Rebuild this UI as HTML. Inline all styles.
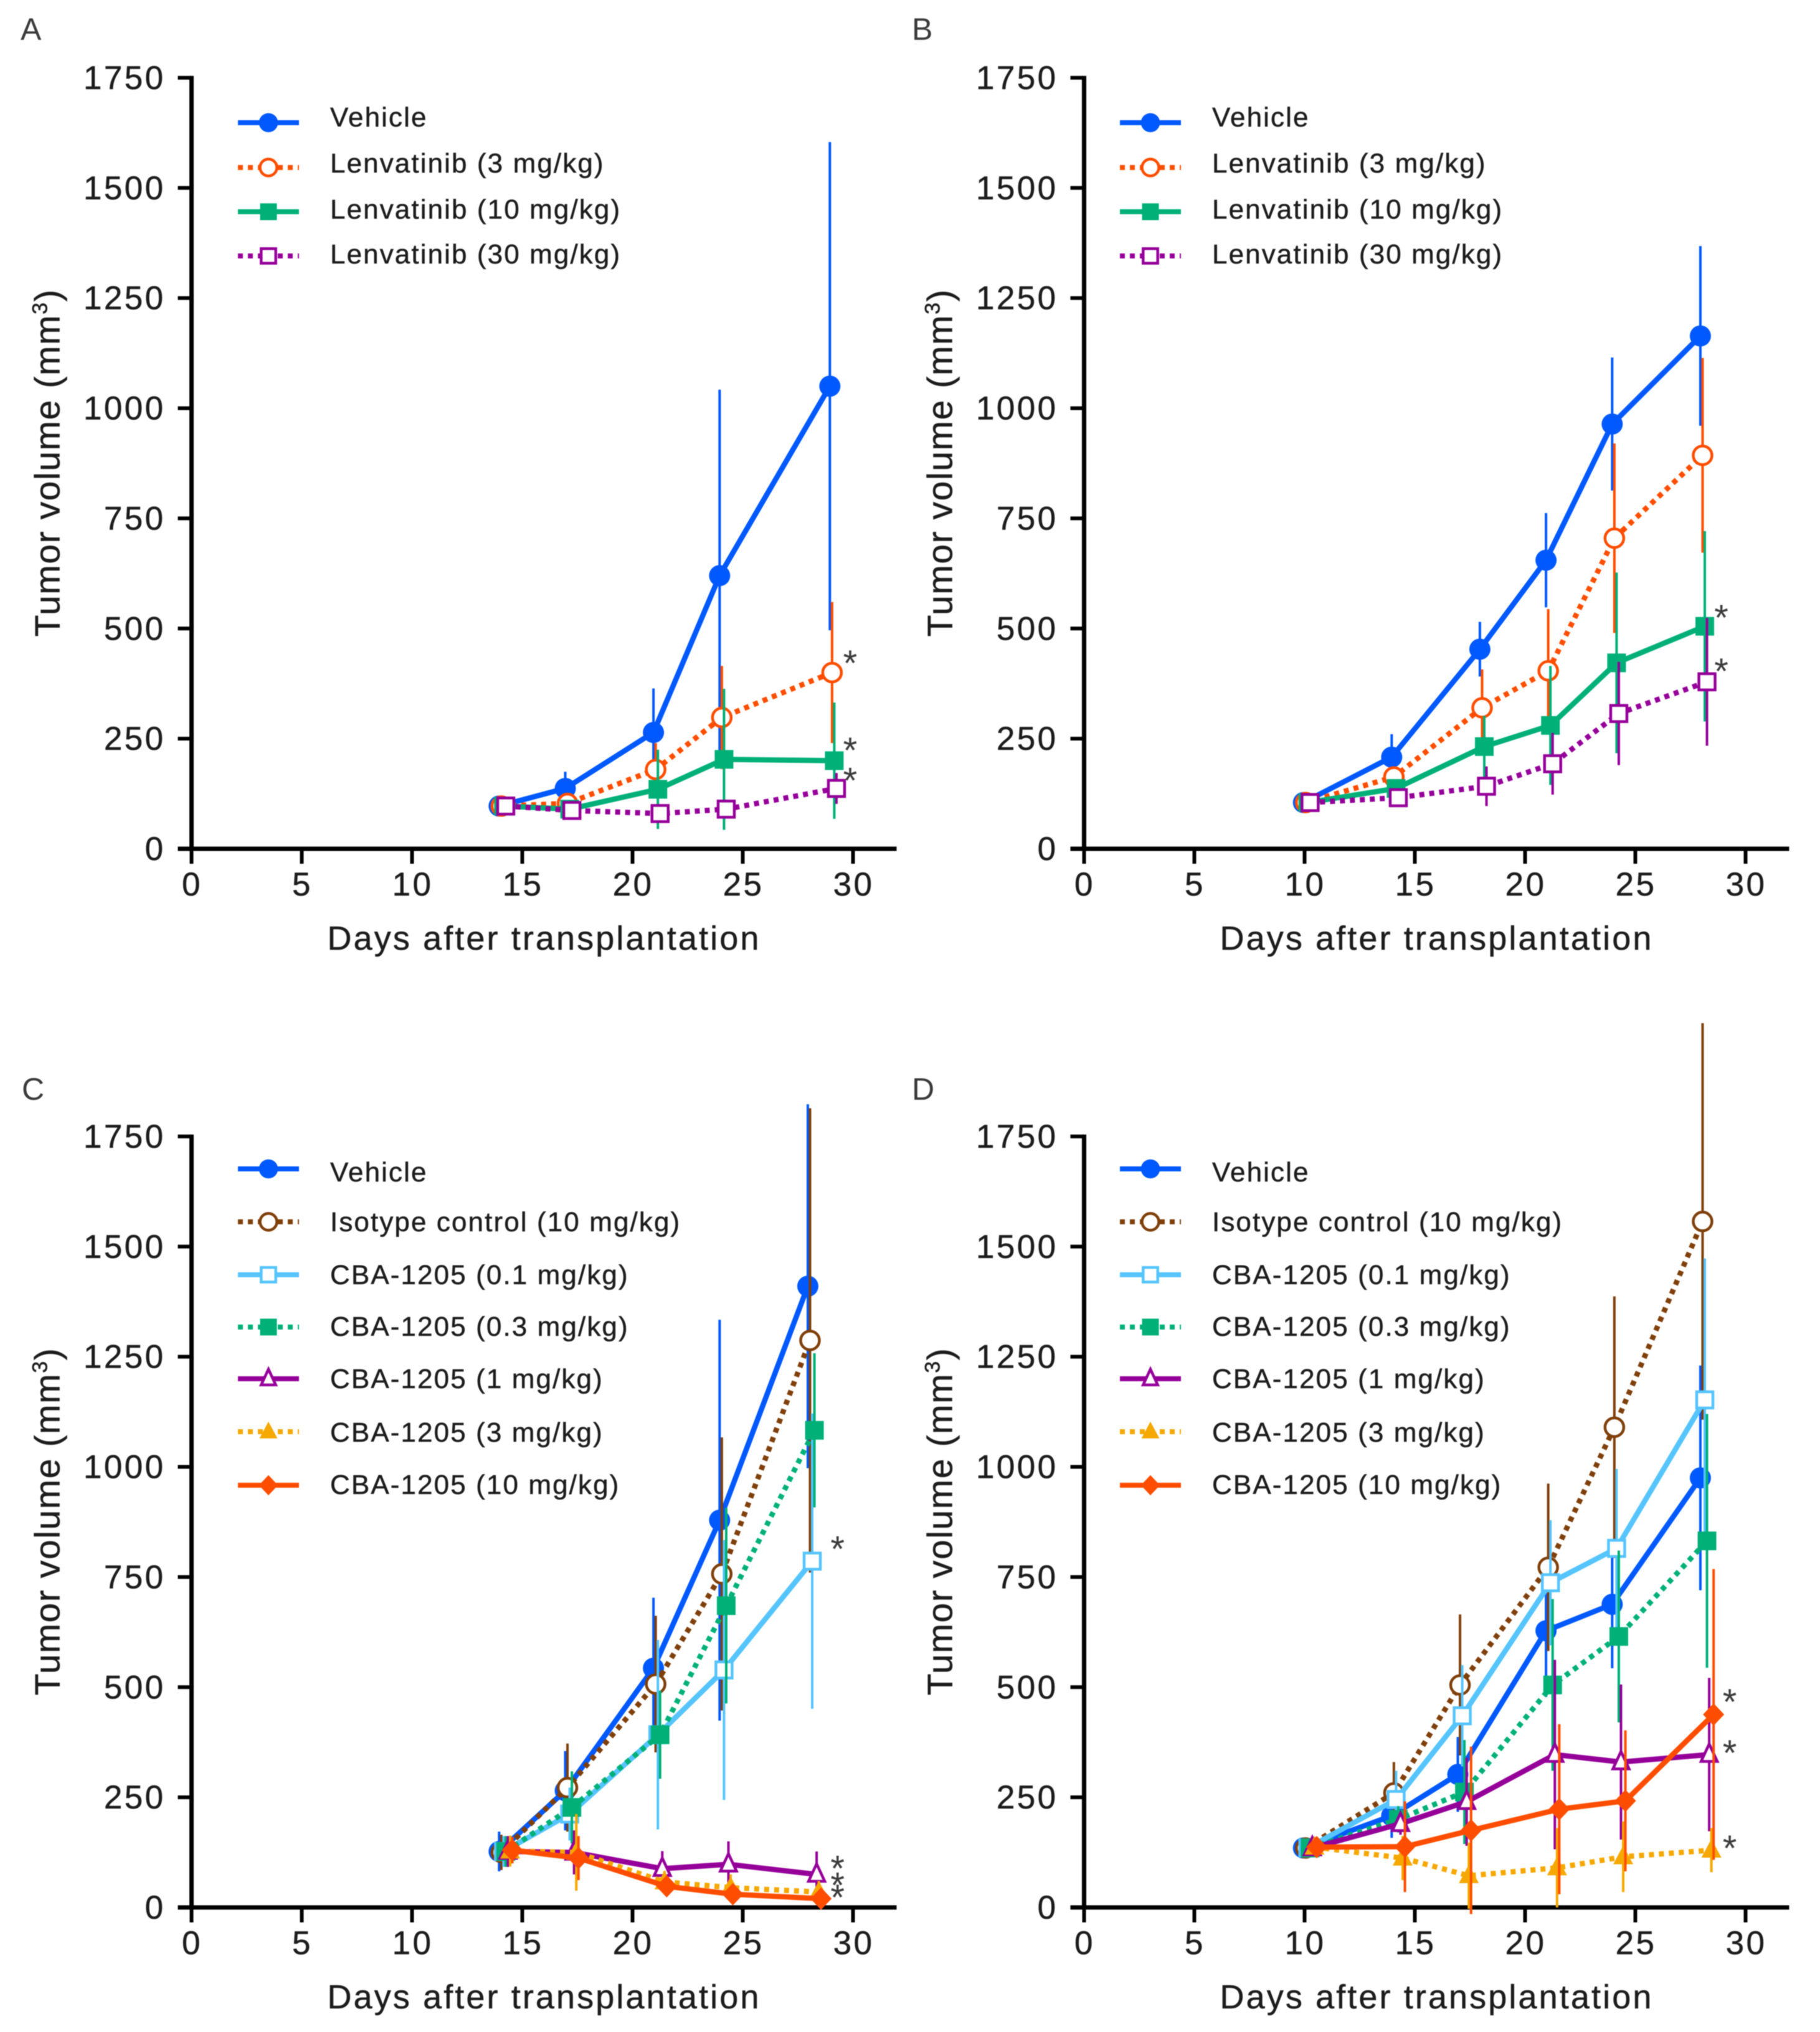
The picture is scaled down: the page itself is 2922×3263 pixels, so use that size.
<!DOCTYPE html>
<html>
<head>
<meta charset="utf-8">
<title>Tumor volume charts</title>
<style>
html,body{margin:0;padding:0;background:#fff;width:2922px;height:3263px;overflow:hidden}
svg{display:block;filter:blur(.7px)}
text{font-family:"Liberation Sans",Arial,sans-serif;fill:#1c1c1c;stroke:#1c1c1c;stroke-width:.5px}
text.soft{fill:#3a3a3a;stroke:none}
</style>
</head>
<body>
<svg id="figure" xmlns="http://www.w3.org/2000/svg" width="2922" height="3263" viewBox="0 0 2922 3263"></svg>
<script>
const xTicks=[0,5,10,15,20,25,30];
const yTicks=[0,250,500,750,1000,1250,1500,1750];
const xTitle="Days after transplantation";

const daysA=[14,17,21,24,29];
const vehicleA=[97,137,264,620,1050];
const vehicleAErr=[6,38,100,422,554];
const len3A=[97,103,180,298,400];
const len3AErr=[8,12,60,117,160];
const len10A=[97,90,135,203,200];
const len10AErr=[8,8,90,160,132];
const len30A=[97,87,80,90,137];
const len30AErr=[6,8,8,8,35];
const starDaysA=[29.87,29.87,29.87];
const starValsA=[430,232,163];

const daysB=[10,14,18,21,24,28];
const vehicleB=[105,208,453,655,964,1164];
const vehicleBErr=[6,52,62,107,151,204];
const len3B=[105,163,320,404,705,893];
const len3BErr=[6,20,87,140,215,221];
const len10B=[105,137,232,280,422,505];
const len10BErr=[6,10,70,135,205,216];
const len30B=[105,116,142,193,307,379];
const len30BErr=[6,20,45,70,117,145];
const starDaysB=[28.9,28.9];
const starValsB=[533,411];

const daysC=[14,17,21,24,28];
const vehicleC=[127,265,543,879,1410];
const vehicleCErr=[45,90,160,455,413];
const isoC=[125,272,507,757,1287];
const isoCErr=[40,100,155,310,527];
const cba01C=[127,212,392,539,786];
const cba01CErr=[35,60,215,295,335];
const cba03C=[127,227,392,685,1083];
const cba03CErr=[35,82,100,222,175];
const cba1C=[127,125,88,98,75];
const cba1CErr=[35,50,40,52,52];
const cba3C=[128,125,58,45,35];
const cba3CErr=[35,87,25,30,25];
const cba10C=[130,112,48,30,20];
const cba10CErr=[30,50,15,10,5];
const starDaysC=[29.3,29.3,29.3,29.3];
const starValsC=[822,97,59,31];

const daysD=[10,14,17,21,24,28];
const vehicleD=[135,208,302,628,688,975];
const vehicleDErr=[6,50,85,150,145,255];
const isoD=[135,260,505,772,1090,1557];
const isoDErr=[6,70,160,190,297,450];
const cba01D=[135,245,435,737,815,1152];
const cba01DErr=[6,65,115,142,180,321];
const cba03D=[135,200,262,505,615,832];
const cba03DErr=[6,30,118,195,195,288];
const cba1D=[135,190,240,347,330,347];
const cba1DErr=[6,25,100,215,176,174];
const cba3D=[137,112,72,90,115,130];
const cba3DErr=[6,50,75,90,80,50];
const cba10D=[137,138,175,223,242,438];
const cba10DErr=[6,103,190,193,160,330];
const starDaysD=[29.28,29.28,29.28];
const starValsD=[475,359,143];

const namesLen=["Vehicle","Lenvatinib (3 mg/kg)","Lenvatinib (10 mg/kg)","Lenvatinib (30 mg/kg)"];
const namesCba=["Vehicle","Isotype control (10 mg/kg)","CBA-1205 (0.1 mg/kg)","CBA-1205 (0.3 mg/kg)","CBA-1205 (1 mg/kg)","CBA-1205 (3 mg/kg)","CBA-1205 (10 mg/kg)"];

const BLUE="#0058ff",ORANGE="#ff4d00",GREEN="#00b077",PURPLE="#950099",BROWN="#7f3f0a",SKY="#55c4ff",AMBER="#f5a800";
const styleLen=[
 {c:BLUE,dash:false,m:"circle",open:false},
 {c:ORANGE,dash:true,m:"circle",open:true},
 {c:GREEN,dash:false,m:"square",open:false},
 {c:PURPLE,dash:true,m:"square",open:true}];
const styleCba=[
 {c:BLUE,dash:false,m:"circle",open:false},
 {c:BROWN,dash:true,m:"circle",open:true},
 {c:SKY,dash:false,m:"square",open:true},
 {c:GREEN,dash:true,m:"square",open:false},
 {c:PURPLE,dash:false,m:"triangle",open:true},
 {c:AMBER,dash:true,m:"triangle",open:false},
 {c:ORANGE,dash:false,m:"diamond",open:false}];

const panels=[
 {id:"a",label:"A",labelX:33,labelY:64,ax:307.5,bottom:1363,end:1439.5,days:daysA,
  vals:[vehicleA,len3A,len10A,len30A],errs:[vehicleAErr,len3AErr,len10AErr,len30AErr],
  names:namesLen,styles:styleLen,legX:382,
  legLine:[197,269,340,411],legText:[203,277,351,423],
  starDays:starDaysA,starVals:starValsA},
 {id:"b",label:"B",labelX:1464,labelY:64,ax:1740.5,bottom:1363,end:2872.5,days:daysB,
  vals:[vehicleB,len3B,len10B,len30B],errs:[vehicleBErr,len3BErr,len10BErr,len30BErr],
  names:namesLen,styles:styleLen,legX:1798,
  legLine:[197,269,340,411],legText:[203,277,351,423],
  starDays:starDaysB,starVals:starValsB},
 {id:"c",label:"C",labelX:35,labelY:1766,ax:307.5,bottom:3063,end:1439.5,days:daysC,
  vals:[vehicleC,isoC,cba01C,cba03C,cba1C,cba3C,cba10C],errs:[vehicleCErr,isoCErr,cba01CErr,cba03CErr,cba1CErr,cba3CErr,cba10CErr],
  names:namesCba,styles:styleCba,legX:382,
  legLine:[1877,1962,2047,2131,2214,2299,2385],legText:[1897,1977,2062,2145,2229,2315,2399],
  starDays:starDaysC,starVals:starValsC},
 {id:"d",label:"D",labelX:1464,labelY:1766,ax:1740.5,bottom:3063,end:2872.5,days:daysD,
  vals:[vehicleD,isoD,cba01D,cba03D,cba1D,cba3D,cba10D],errs:[vehicleDErr,isoDErr,cba01DErr,cba03DErr,cba1DErr,cba3DErr,cba10DErr],
  names:namesCba,styles:styleCba,legX:1798,
  legLine:[1877,1962,2047,2131,2214,2299,2385],legText:[1897,1977,2062,2145,2229,2315,2399],
  starDays:starDaysD,starVals:starValsD}
];

const NS="http://www.w3.org/2000/svg";
const PX_PER_DAY=35.4, PX_PER_UNIT=0.7075;
function xScale(p,d){return p.ax+d*PX_PER_DAY;}
function yScale(p,v){return p.bottom-v*PX_PER_UNIT;}
function make(tag,parent,attrs){
 const e=document.createElementNS(NS,tag);
 for(const k in attrs)e.setAttribute(k,attrs[k]);
 parent.appendChild(e);
 return e;
}
function marker(parent,x,y,s,scale){
 const k=scale||1;
 const fill=s.open?"#fff":s.c;
 const base={fill:fill,stroke:s.c,"stroke-width":s.open?4.5:0};
 let e;
 if(s.m==="circle"){
  e=make("ellipse",parent,Object.assign({cx:x,cy:y,rx:(s.open?15:17)*k,ry:(s.open?15:17)*k},base));
 }else if(s.m==="square"){
  const h=(s.open?13:15)*k;
  e=make("rect",parent,Object.assign({x:x-h,y:y-h,width:2*h,height:2*h},base));
 }else if(s.m==="triangle"){
  const w=(s.open?13:16)*k,t=(s.open?17:18)*k,b=(s.open?11:12)*k;
  e=make("polygon",parent,Object.assign({points:(x-w)+","+(y+b)+" "+(x+w)+","+(y+b)+" "+x+","+(y-t)},base));
 }else{
  const w=17*k,t=18*k;
  e=make("polygon",parent,Object.assign({points:(x-w)+","+y+" "+x+","+(y-t)+" "+(x+w)+","+y+" "+x+","+(y+t)},base));
 }
 return e;
}
const svg=document.getElementById("figure");

panels.forEach(function(p){
 const g=make("g",svg,{});
 
 

 const lab=make("text",g,{x:p.labelX,y:p.labelY,"font-size":50,"class":"soft"});
 
 
 lab.textContent=p.label;

 const yTop=yScale(p,1750);
 const yAxis=make("line",g,{x1:p.ax,x2:p.ax,y1:yTop-3,y2:p.bottom+3,stroke:"#000","stroke-width":7});
 
 
 const xAxis=make("line",g,{x1:p.ax-22,x2:p.end,y1:p.bottom,y2:p.bottom,stroke:"#000","stroke-width":7});
 
 

 yTicks.forEach(function(v){
  const y=yScale(p,v);
  const t=make("line",g,{x1:p.ax-22,x2:p.ax,y1:y,y2:y,stroke:"#000","stroke-width":6});
  
  
  const l=make("text",g,{x:p.ax-42,y:y+18,"font-size":53,"letter-spacing":3.4,"text-anchor":"end"});
  
  
  l.textContent=v;
 });
 xTicks.forEach(function(d){
  const x=xScale(p,d);
  const t=make("line",g,{x1:x,x2:x,y1:p.bottom,y2:p.bottom+24,stroke:"#000","stroke-width":6});
  
  
  const l=make("text",g,{x:x+1,y:p.bottom+75,"font-size":53,"letter-spacing":3.4,"text-anchor":"middle"});
  
  
  l.textContent=d;
 });

 const xt=make("text",g,{x:p.ax+566,y:p.bottom+162,"font-size":54,"letter-spacing":3.1,"text-anchor":"middle"});
 
 
 xt.textContent=xTitle;

 const cy=p.bottom-620, bx=p.ax-212;
 const yt=make("text",g,{x:bx,y:cy,"font-size":57,"letter-spacing":1.6,"text-anchor":"middle",transform:"rotate(-90 "+bx+" "+cy+")"});
 
 
 const s1=make("tspan",yt,{});
 s1.textContent="Tumor volume (mm";
 const s2=make("tspan",yt,{"font-size":34,dy:-20});
 s2.textContent="3";
 const s3=make("tspan",yt,{dy:20});
 s3.textContent=")";

 p.names.forEach(function(name,i){
  const s=p.styles[i];
  const lg=make("g",g,{});
  
  
  const ly=p.legLine[i];
  const ll=make("line",lg,{x1:p.legX,x2:p.legX+98,y1:ly,y2:ly,stroke:s.c,"stroke-width":8});
  if(s.dash)ll.setAttribute("stroke-dasharray","8 8");
  
  
  const lm=marker(lg,p.legX+49,ly,s,0.9);
  
  
  const lt=make("text",lg,{x:p.legX+148,y:p.legText[i],"font-size":44,"letter-spacing":2.1});
  
  
  lt.textContent=name;
 });

 p.vals.forEach(function(vals,i){
  const s=p.styles[i], errs=p.errs[i];
  const nudge=-0.05+0.1*i;
  const sg=make("g",g,{});
  
  
  vals.forEach(function(v,j){
   const x=xScale(p,p.days[j]+nudge);
   const b=make("line",sg,{x1:x,x2:x,y1:yScale(p,v+errs[j]),y2:yScale(p,v-errs[j]),stroke:s.c,"stroke-width":4});
   
   
  });
  const pts=vals.map(function(v,j){return xScale(p,p.days[j]+nudge)+","+yScale(p,v);}).join(" ");
  const pl=make("polyline",sg,{points:pts,fill:"none",stroke:s.c,"stroke-width":8.5,"stroke-linejoin":"round"});
  if(s.dash)pl.setAttribute("stroke-dasharray","8 8");
  
  
  vals.forEach(function(v,j){
   const m=marker(sg,xScale(p,p.days[j]+nudge),yScale(p,v),s,1);
   
   
  });
 });

 p.starVals.forEach(function(v,i){
  const st=make("text",g,{x:xScale(p,p.starDays[i]),y:yScale(p,v)+26,"font-size":58,"text-anchor":"middle","class":"soft"});
  
  
  st.textContent="*";
 });
});
</script>
</body>
</html>
